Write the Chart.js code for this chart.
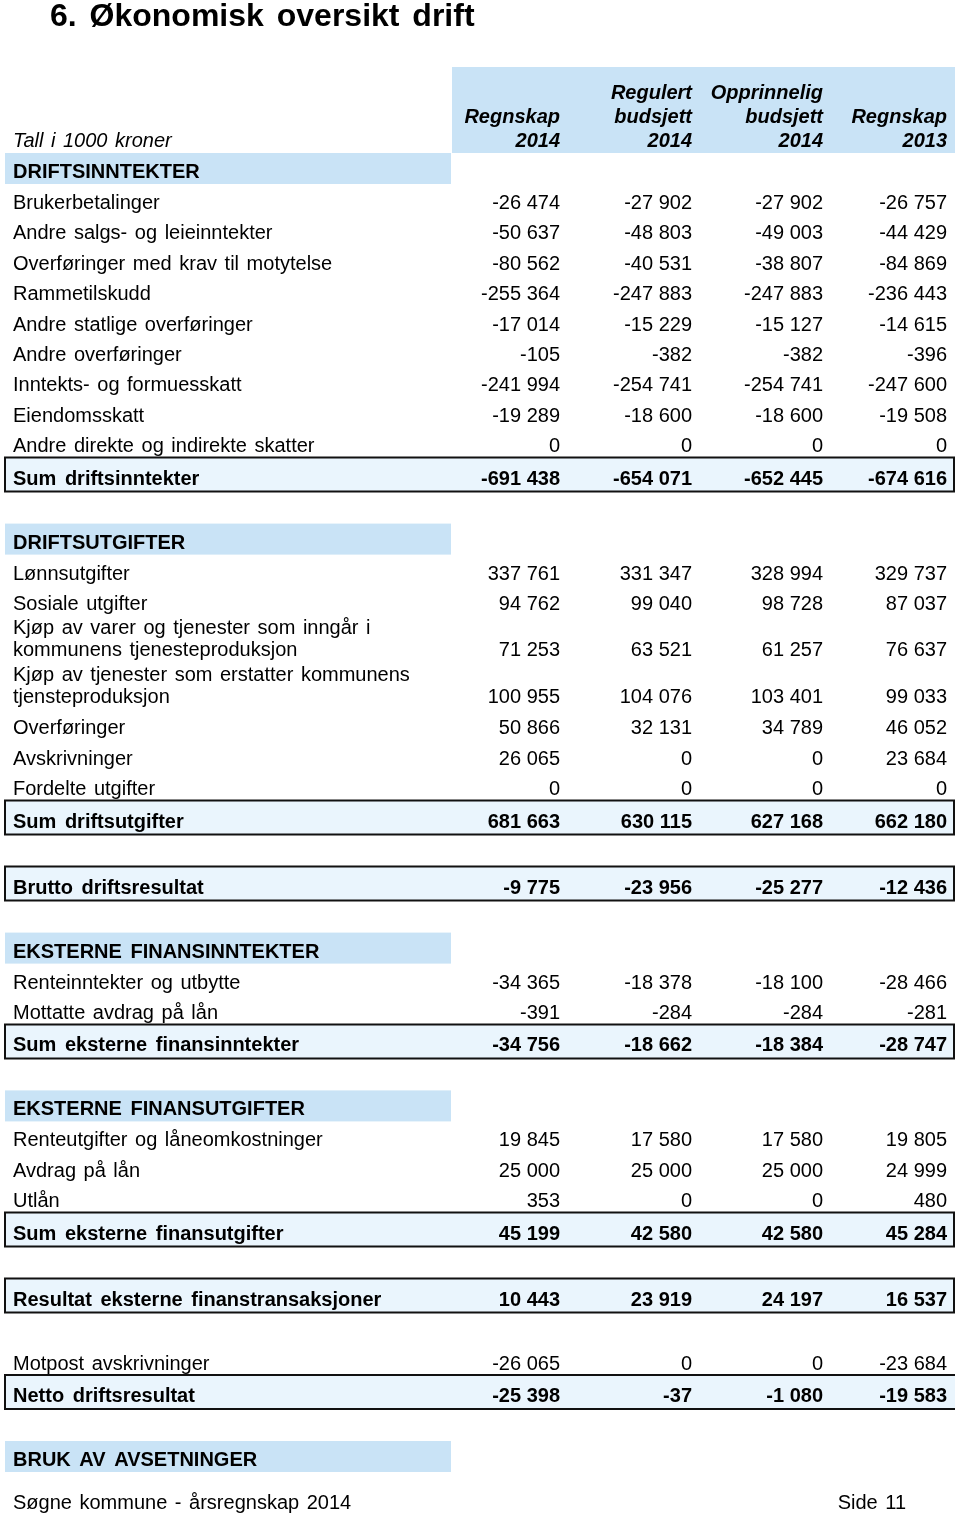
<!DOCTYPE html>
<html>
<head>
<meta charset="utf-8">
<script src="https://cdn.jsdelivr.net/npm/chart.js@4.4.1/dist/chart.umd.min.js"></script>
<style>
  html, body { margin: 0; padding: 0; background: #ffffff; }
  #wrap { position: relative; width: 960px; height: 1514px; overflow: hidden; }
  canvas { display: block; }
</style>
</head>
<body>
<div id="wrap"><canvas id="c" width="960" height="1514"></canvas></div>
<script>
// ---------------- DATA ----------------
const pageTitle = '6. Økonomisk oversikt drift';
const unitNote = 'Tall i 1000 kroner';
const columnHeaders = [
  ['Regnskap', '2014'],
  ['Regulert', 'budsjett', '2014'],
  ['Opprinnelig', 'budsjett', '2014'],
  ['Regnskap', '2013']
];
const footerLeft = 'Søgne kommune - årsregnskap 2014';
const footerRight = 'Side 11';

const rowLabels = [
  'DRIFTSINNTEKTER',
  'Brukerbetalinger',
  'Andre salgs- og leieinntekter',
  'Overføringer med krav til motytelse',
  'Rammetilskudd',
  'Andre statlige overføringer',
  'Andre overføringer',
  'Inntekts- og formuesskatt',
  'Eiendomsskatt',
  'Andre direkte og indirekte skatter',
  'Sum driftsinntekter',
  '',
  'DRIFTSUTGIFTER',
  'Lønnsutgifter',
  'Sosiale utgifter',
  ['Kjøp av varer og tjenester som inngår i', 'kommunens tjenesteproduksjon'],
  ['Kjøp av tjenester som erstatter kommunens', 'tjensteproduksjon'],
  'Overføringer',
  'Avskrivninger',
  'Fordelte utgifter',
  'Sum driftsutgifter',
  '',
  'Brutto driftsresultat',
  '',
  'EKSTERNE FINANSINNTEKTER',
  'Renteinntekter og utbytte',
  'Mottatte avdrag på lån',
  'Sum eksterne finansinntekter',
  '',
  'EKSTERNE FINANSUTGIFTER',
  'Renteutgifter og låneomkostninger',
  'Avdrag på lån',
  'Utlån',
  'Sum eksterne finansutgifter',
  '',
  'Resultat eksterne finanstransaksjoner',
  '',
  'Motpost avskrivninger',
  'Netto driftsresultat',
  '',
  'BRUK AV AVSETNINGER'
];

const rowKinds = [
  'section',
  'item','item','item','item','item','item','item','item','item',
  'sum',
  'blank',
  'section',
  'item','item','item','item','item','item','item',
  'sum',
  'blank',
  'sum',
  'blank',
  'section',
  'item','item',
  'sum',
  'blank',
  'section',
  'item','item','item',
  'sum',
  'blank',
  'sum',
  'blank',
  'item',
  'sum',
  'blank',
  'section'
];

const regnskap2014 = [
  null, -26474, -50637, -80562, -255364, -17014, -105, -241994, -19289, 0, -691438,
  null, null, 337761, 94762, 71253, 100955, 50866, 26065, 0, 681663,
  null, -9775, null, null, -34365, -391, -34756,
  null, null, 19845, 25000, 353, 45199,
  null, 10443, null, -26065, -25398, null, null
];
const regulertBudsjett2014 = [
  null, -27902, -48803, -40531, -247883, -15229, -382, -254741, -18600, 0, -654071,
  null, null, 331347, 99040, 63521, 104076, 32131, 0, 0, 630115,
  null, -23956, null, null, -18378, -284, -18662,
  null, null, 17580, 25000, 0, 42580,
  null, 23919, null, 0, -37, null, null
];
const opprinneligBudsjett2014 = [
  null, -27902, -49003, -38807, -247883, -15127, -382, -254741, -18600, 0, -652445,
  null, null, 328994, 98728, 61257, 103401, 34789, 0, 0, 627168,
  null, -25277, null, null, -18100, -284, -18384,
  null, null, 17580, 25000, 0, 42580,
  null, 24197, null, 0, -1080, null, null
];
const regnskap2013 = [
  null, -26757, -44429, -84869, -236443, -14615, -396, -247600, -19508, 0, -674616,
  null, null, 329737, 87037, 76637, 99033, 46052, 23684, 0, 662180,
  null, -12436, null, null, -28466, -281, -28747,
  null, null, 19805, 24999, 480, 45284,
  null, 16537, null, -23684, -19583, null, null
];

// ---------------- STYLE / LAYOUT ----------------
const FONT = '"Liberation Sans", Arial, Helvetica, sans-serif';
const STYLE = {
  pageW: 960, pageH: 1514,
  headerTop: 67, headerBottom: 153,
  headerBgX: [452, 955],
  sectionBgX: [5, 451],
  boxX: [5, 954],
  labelX: 13,
  colRight: [560, 692, 823, 947],
  heights: { section: 31, item: 30.4, sum: 34, blank: 32, twoLine: 47 },
  baseline: { section: 25, item: 25, sum: 27, twoLine: [19, 41] },
  headerLineGap: 24, headerLastBaseline: 147.3,
  titleX: 50, titleBaseline: 26, titleFont: 'bold 32px ' + FONT, titleWordSpacing: '4px',
  bodyFont: '20px ' + FONT, boldFont: 'bold 20px ' + FONT,
  labelWordSpacing: '2px', boldWordSpacing: '3px',
  headFont: 'italic bold 20px ' + FONT, noteFont: 'italic 20px ' + FONT,
  footFont: '20px ' + FONT, footBaseline: 1509, footRightX: 906,
  blue: '#c9e3f6', sumFill: '#eaf5fd', border: '#111111', text: '#000000',
  openRight: ['Netto driftsresultat']
};

function fmt(v) {
  const s = Math.abs(v).toString().replace(/\B(?=(\d{3})+(?!\d))/g, ' ');
  return (v < 0 ? '-' : '') + s;
}

// Row geometry derived from row kinds
const rowTops = [];
const rowHeights = [];
(function () {
  let y = STYLE.headerBottom;
  rowKinds.forEach((k, i) => {
    const h = Array.isArray(rowLabels[i]) ? STYLE.heights.twoLine : STYLE.heights[k];
    rowTops.push(y);
    rowHeights.push(h);
    y += h;
  });
})();
function valueBaseline(i) {
  if (Array.isArray(rowLabels[i])) return rowTops[i] + STYLE.baseline.twoLine[1];
  return rowTops[i] + STYLE.baseline[rowKinds[i]];
}

const valueSeries = [regnskap2014, regulertBudsjett2014, opprinneligBudsjett2014, regnskap2013];
const datasets = valueSeries.map((arr, c) => ({
  label: columnHeaders[c].join(' '),
  data: arr.map((v, i) => v === null ? null : ({ x: STYLE.colRight[c], y: valueBaseline(i), v: v, row: i }))
           .filter(p => p !== null),
  pointRadius: 0, pointHoverRadius: 0, showLine: false
}));
datasets.push({
  label: 'rader',
  data: rowLabels.map((l, i) => ({ x: STYLE.labelX, y: rowTops[i], row: i })).filter(p => rowLabels[p.row] !== ''),
  pointRadius: 0, pointHoverRadius: 0, showLine: false
});

function setSpacing(ctx, ws) {
  if ('wordSpacing' in ctx) ctx.wordSpacing = ws;
}

const tablePlugin = {
  id: 'tablePlugin',
  beforeDatasetsDraw(chart) {
    const ctx = chart.ctx, xs = chart.scales.x, ys = chart.scales.y;
    ctx.save();
    ctx.fillStyle = STYLE.blue;
    const hx0 = xs.getPixelForValue(STYLE.headerBgX[0]), hx1 = xs.getPixelForValue(STYLE.headerBgX[1]);
    const hy0 = ys.getPixelForValue(STYLE.headerTop), hy1 = ys.getPixelForValue(STYLE.headerBottom);
    ctx.fillRect(hx0, hy0, hx1 - hx0, hy1 - hy0);
    rowKinds.forEach((k, i) => {
      const y0 = ys.getPixelForValue(rowTops[i]);
      const y1 = ys.getPixelForValue(rowTops[i] + rowHeights[i]);
      if (k === 'section') {
        const x0 = xs.getPixelForValue(STYLE.sectionBgX[0]), x1 = xs.getPixelForValue(STYLE.sectionBgX[1]);
        ctx.fillStyle = STYLE.blue;
        ctx.fillRect(x0, y0, x1 - x0, y1 - y0);
      } else if (k === 'sum') {
        const x0 = xs.getPixelForValue(STYLE.boxX[0]), x1 = xs.getPixelForValue(STYLE.boxX[1]);
        ctx.fillStyle = STYLE.sumFill;
        ctx.fillRect(x0, y0, x1 - x0 + 1, y1 - y0);
        ctx.strokeStyle = STYLE.border;
        ctx.lineWidth = 2;
        ctx.beginPath();
        if (STYLE.openRight.includes(rowLabels[i])) {
          ctx.moveTo(x1 + 1, y0); ctx.lineTo(x0, y0); ctx.lineTo(x0, y1); ctx.lineTo(x1 + 1, y1);
        } else {
          ctx.rect(x0, y0, x1 - x0, y1 - y0);
        }
        ctx.stroke();
      }
    });
    ctx.restore();
  },
  afterDatasetsDraw(chart) {
    const ctx = chart.ctx, xs = chart.scales.x, ys = chart.scales.y;
    ctx.save();
    ctx.fillStyle = STYLE.text;
    ctx.textBaseline = 'alphabetic';
    // title
    ctx.font = STYLE.titleFont;
    setSpacing(ctx, STYLE.titleWordSpacing);
    ctx.textAlign = 'left';
    ctx.fillText(pageTitle, xs.getPixelForValue(STYLE.titleX), ys.getPixelForValue(STYLE.titleBaseline));
    // unit note
    ctx.font = STYLE.noteFont;
    setSpacing(ctx, STYLE.labelWordSpacing);
    ctx.fillText(unitNote, xs.getPixelForValue(STYLE.labelX), ys.getPixelForValue(STYLE.headerLastBaseline - 0.6));
    // column headers
    ctx.font = STYLE.headFont;
    setSpacing(ctx, '0px');
    ctx.textAlign = 'right';
    columnHeaders.forEach((lines, c) => {
      const n = lines.length;
      lines.forEach((t, j) => {
        const by = STYLE.headerLastBaseline - (n - 1 - j) * STYLE.headerLineGap;
        ctx.fillText(t, xs.getPixelForValue(STYLE.colRight[c]), ys.getPixelForValue(by));
      });
    });
    // row labels (from the label dataset points)
    const labelMeta = chart.getDatasetMeta(valueSeries.length);
    labelMeta.data.forEach((el, k) => {
      const p = chart.data.datasets[valueSeries.length].data[k];
      const i = p.row, kind = rowKinds[i], lab = rowLabels[i];
      const bold = (kind === 'section' || kind === 'sum');
      ctx.textAlign = 'left';
      ctx.font = bold ? STYLE.boldFont : STYLE.bodyFont;
      setSpacing(ctx, bold ? STYLE.boldWordSpacing : STYLE.labelWordSpacing);
      if (Array.isArray(lab)) {
        lab.forEach((t, j) => {
          ctx.fillText(t, el.x, ys.getPixelForValue(rowTops[i] + STYLE.baseline.twoLine[j]));
        });
      } else {
        ctx.fillText(lab, el.x, ys.getPixelForValue(rowTops[i] + STYLE.baseline[kind]));
      }
    });
    // values
    setSpacing(ctx, '0px');
    for (let c = 0; c < valueSeries.length; c++) {
      const meta = chart.getDatasetMeta(c);
      meta.data.forEach((el, k) => {
        const p = chart.data.datasets[c].data[k];
        ctx.font = rowKinds[p.row] === 'sum' ? STYLE.boldFont : STYLE.bodyFont;
        ctx.textAlign = 'right';
        ctx.fillText(fmt(p.v), el.x, el.y);
      });
    }
    // footer
    ctx.font = STYLE.footFont;
    setSpacing(ctx, STYLE.labelWordSpacing);
    ctx.textAlign = 'left';
    ctx.fillText(footerLeft, xs.getPixelForValue(STYLE.labelX), ys.getPixelForValue(STYLE.footBaseline));
    ctx.textAlign = 'right';
    ctx.fillText(footerRight, xs.getPixelForValue(STYLE.footRightX), ys.getPixelForValue(STYLE.footBaseline));
    ctx.restore();
  }
};

new Chart(document.getElementById('c'), {
  type: 'scatter',
  data: { datasets: datasets },
  options: {
    responsive: false,
    animation: false,
    devicePixelRatio: 1,
    layout: { padding: 0, autoPadding: false },
    events: [],
    plugins: { legend: { display: false }, tooltip: { enabled: false }, title: { display: false } },
    scales: {
      x: { type: 'linear', min: 0, max: STYLE.pageW, display: false },
      y: { type: 'linear', min: 0, max: STYLE.pageH, reverse: true, display: false }
    }
  },
  plugins: [tablePlugin]
});
</script>
</body>
</html>
